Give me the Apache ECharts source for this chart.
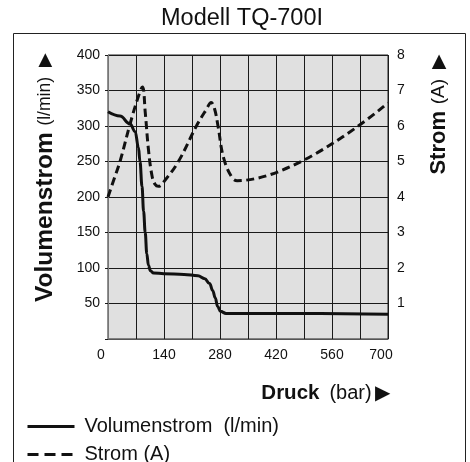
<!DOCTYPE html>
<html>
<head>
<meta charset="utf-8">
<script src="https://cdn.jsdelivr.net/npm/echarts@6/dist/echarts.min.js"></script>
<style>html,body{margin:0;padding:0;background:#fff;}#c{width:470px;height:462px;}</style>
</head>
<body>
<div id="c"></div>
<script>
// Volumenstrom (l/min) vs Druck (bar)
var volX = [0, 30, 55, 68, 76, 80, 85, 89, 93, 97, 101, 106, 114, 140, 190, 225, 242, 254, 262, 268, 274, 281, 295, 450, 700];
var volY = [320, 314, 303, 292, 270, 250, 215, 180, 150, 120, 104, 96, 93, 92, 91, 89, 85, 78, 68, 58, 46, 39, 36, 36, 35];
// Strom (A) vs Druck (bar)
var curX = [0, 15, 30, 55, 75, 86, 93, 101, 110, 118, 126, 143, 176, 222, 245, 258, 266, 275, 289, 310, 323, 700];
var curY = [4.0, 4.5, 5.0, 6.05, 6.8, 7.1, 6.4, 5.35, 4.6, 4.35, 4.3, 4.48, 5.0, 6.02, 6.45, 6.66, 6.5, 6.0, 5.1, 4.55, 4.46, 6.65];
var xTicks = [0, 140, 280, 420, 560, 700];
var leftTicks = [50, 100, 150, 200, 250, 300, 350, 400];
var rightTicks = [1, 2, 3, 4, 5, 6, 7, 8];

function pairs(xs, ys) { return xs.map(function (x, i) { return [x, ys[i]]; }); }

var FONT = "'Liberation Sans', Arial, Helvetica, sans-serif";
var INK = '#111';
var chart = echarts.init(document.getElementById('c'));
chart.setOption({
  animation: false,
  textStyle: { fontFamily: FONT, color: INK },
  title: {
    text: 'Modell TQ-700I', left: 237, top: 2, textAlign: 'center',
    textStyle: { fontFamily: FONT, fontSize: 23.5, fontWeight: 'normal', color: INK }
  },
  grid: {
    left: 108, right: 82, top: 55, bottom: 123,
    show: true, backgroundColor: '#e0e0e0', borderColor: '#222', borderWidth: 1
  },
  legend: {
    orient: 'vertical', left: 26, top: 416, height: 120, padding: 0,
    itemWidth: 47, itemHeight: 14, itemGap: 7,
    itemStyle: { opacity: 0 },
    textStyle: { fontFamily: FONT, fontSize: 20, lineHeight: 21, color: INK, padding: [0, 0, 0, 5] },
    data: [
      { name: 'Volumenstrom  (l/min)', lineStyle: { type: 'solid', width: 3, color: INK } },
      { name: 'Strom (A)', lineStyle: { type: [11, 6], width: 3, color: INK } }
    ]
  },
  xAxis: {
    type: 'value', min: 0, max: 700, interval: 70,
    axisLine: { show: true, lineStyle: { color: '#555', width: 1 } },
    axisTick: { show: false },
    splitLine: { show: true, lineStyle: { color: '#1a1a1a', width: 1 } },
    axisLabel: {
      margin: 9, fontSize: 14, color: INK, fontFamily: FONT,
      formatter: function (v) {
        if (xTicks.indexOf(v) < 0) return '';
        if (v === 0 || v === 700) return '{l|' + v + '}';
        return String(v);
      },
      rich: { l: { fontSize: 14, fontFamily: FONT, color: INK, padding: [0, 14, 0, 0] } }
    }
  },
  yAxis: [
    {
      type: 'value', min: 0, max: 400, interval: 50,
      axisLine: { show: true, lineStyle: { color: '#777', width: 1 } },
      axisTick: { show: true, inside: false, length: 3, lineStyle: { color: '#1a1a1a' } },
      splitLine: { show: true, lineStyle: { color: '#1a1a1a', width: 1 } },
      axisLabel: {
        margin: 8, fontSize: 14, color: INK, fontFamily: FONT,
        formatter: function (v) { return leftTicks.indexOf(v) >= 0 ? String(v) : ''; }
      }
    },
    {
      type: 'value', min: 0, max: 8, interval: 1, position: 'right',
      axisLine: { show: false },
      axisTick: { show: false },
      splitLine: { show: false },
      axisLabel: {
        margin: 9, fontSize: 14, color: INK, fontFamily: FONT,
        formatter: function (v) { return rightTicks.indexOf(v) >= 0 ? String(v) : ''; }
      }
    }
  ],
  series: [
    {
      name: 'Volumenstrom  (l/min)', type: 'line', yAxisIndex: 0,
      data: pairs(volX, volY), smooth: 0.4, smoothMonotone: 'x',
      symbol: 'none', showSymbol: false, lineStyle: { color: INK, width: 3 }, itemStyle: { color: INK }, z: 3
    },
    {
      name: 'Strom (A)', type: 'line', yAxisIndex: 1,
      data: pairs(curX, curY), smooth: 0.4,
      symbol: 'none', showSymbol: false, lineStyle: { color: INK, width: 3, type: [8, 4.5] }, itemStyle: { color: INK }, z: 4
    }
  ],
  graphic: [
    {
      type: 'rect', z: -10, silent: true,
      shape: { x: 13.5, y: 33.5, width: 452, height: 450 },
      style: { fill: 'none', stroke: '#222', lineWidth: 1 }
    },
    {
      type: 'text', x: 45, y: 53, rotation: Math.PI / 2,
      style: {
        text: '{b|Volumenstrom}  {n|(l/min)}   {n|▶}', align: 'right', verticalAlign: 'middle',
        rich: {
          b: { fontFamily: FONT, fontSize: 24.5, fontWeight: 'bold', fill: INK },
          n: { fontFamily: FONT, fontSize: 17.5, fill: INK }
        }
      }
    },
    {
      type: 'text', x: 439, y: 54, rotation: Math.PI / 2,
      style: {
        text: '{b|Strom}  {n|(A)}   {n|▶}', align: 'right', verticalAlign: 'middle',
        rich: {
          b: { fontFamily: FONT, fontSize: 22, fontWeight: 'bold', fill: INK },
          n: { fontFamily: FONT, fontSize: 19, fill: INK }
        }
      }
    },
    {
      type: 'text', x: 390, y: 393,
      style: {
        text: '{b|Druck}   {n|(bar)} {n|▶}', align: 'right', verticalAlign: 'middle',
        rich: {
          b: { fontFamily: FONT, fontSize: 20.5, fontWeight: 'bold', fill: INK },
          n: { fontFamily: FONT, fontSize: 20, fill: INK }
        }
      }
    }
  ]
});
</script>
</body>
</html>
